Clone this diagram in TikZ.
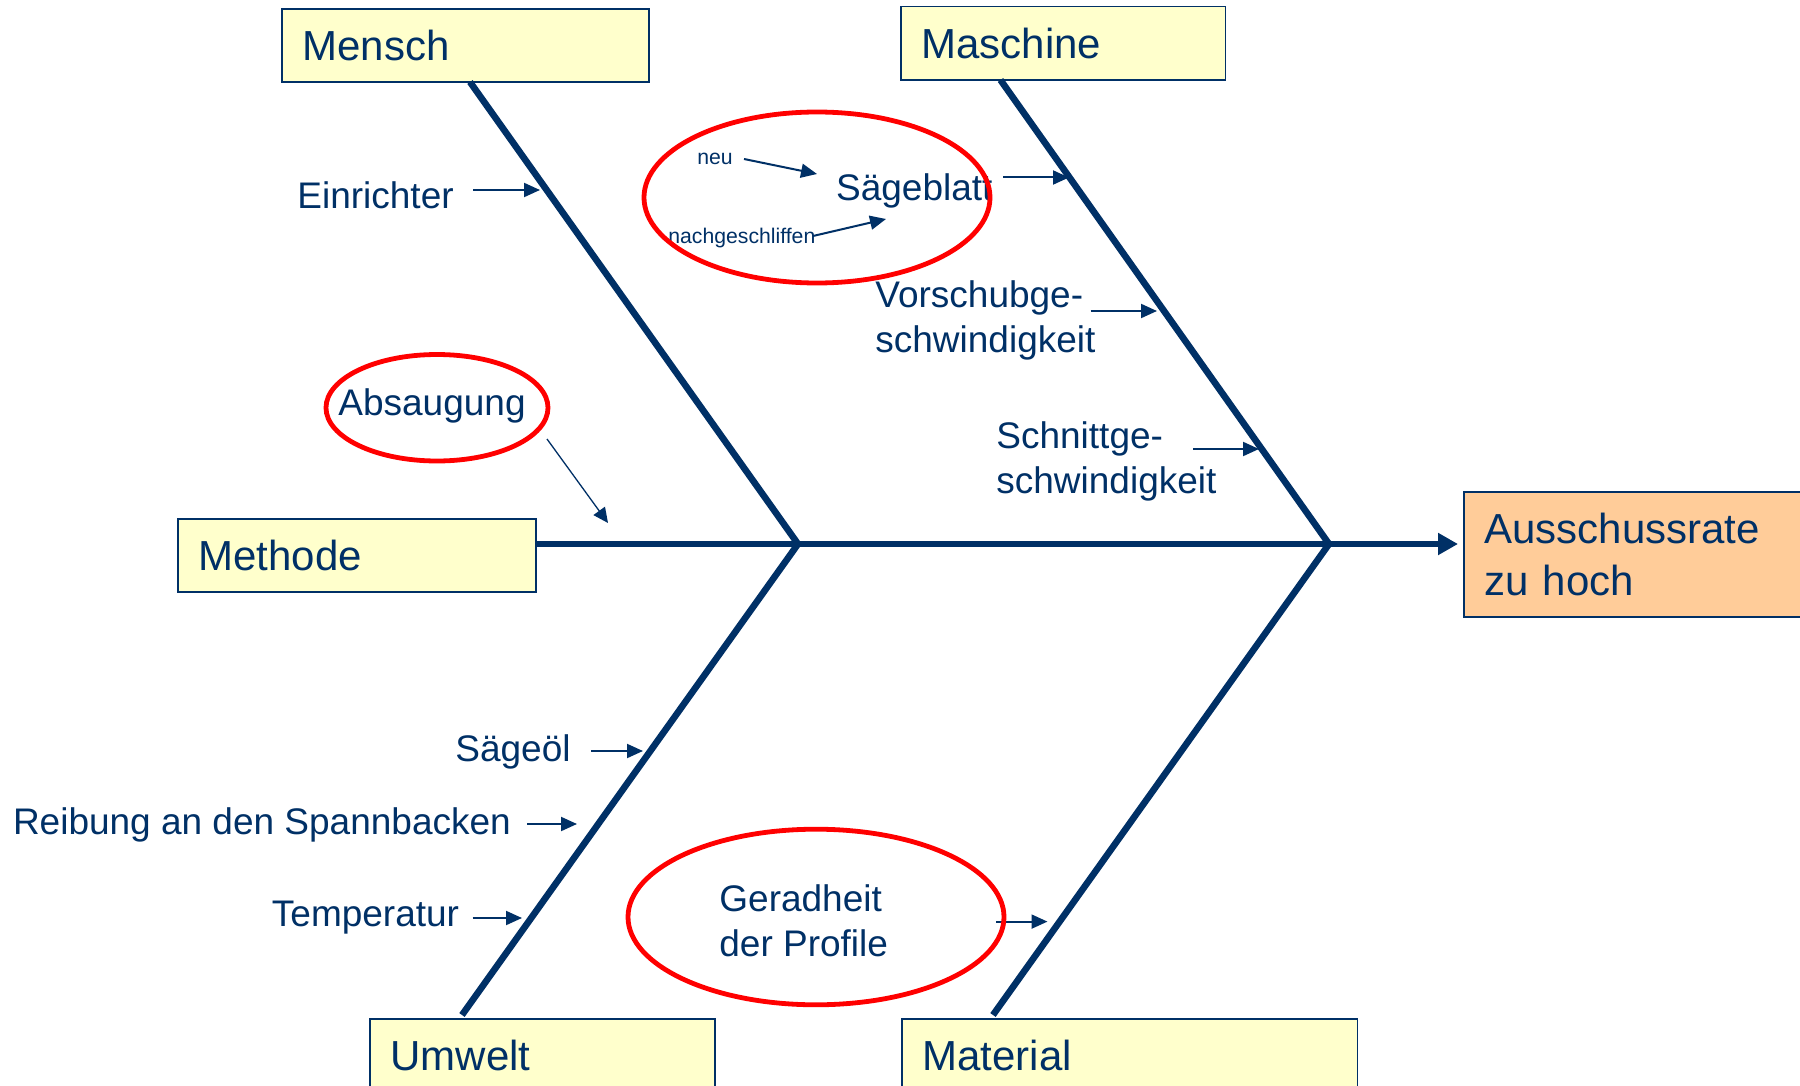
\documentclass[tikz,border=0pt]{standalone}
\usepackage{fontspec}
\setmainfont{Liberation Sans}
\usetikzlibrary{arrows.meta,shapes.geometric,calc}
\definecolor{navy}{RGB}{0,48,102}
\definecolor{boxyellow}{RGB}{255,255,204}
\definecolor{boxorange}{RGB}{255,204,153}
\definecolor{ringred}{RGB}{255,0,0}
\begin{document}
\begin{tikzpicture}[x=0.5pt,y=-0.5pt,
  catbox/.style={draw=navy, line width=0.8pt, fill=boxyellow, text=navy, inner xsep=10.25pt, inner ysep=0pt, outer sep=0pt, align=left, font=\fontsize{21}{26}\selectfont},
  effectbox/.style={catbox, fill=boxorange},
  bone/.style={draw=navy, line width=3.3pt},
  spine/.style={draw=navy, line width=3.3pt, -{Triangle[length=10pt,width=10.5pt]}},
  cause/.style={text=navy, inner sep=0pt, anchor=base west, align=left, font=\fontsize{18.5}{22.5}\selectfont},
  subcause/.style={text=navy, inner sep=0pt, anchor=base west, font=\fontsize{10.6}{12}\selectfont},
  causearrow/.style={draw=navy, line width=1pt, -{Triangle[length=8pt,width=7pt]}},
  thinarrow/.style={draw=navy, line width=0.65pt, -{Triangle[length=7.5pt,width=7pt]}},
  ring/.style={draw=ringred, line width=2.4pt, ellipse, inner sep=0pt, outer sep=0pt}
]
\useasboundingbox (0,0) rectangle (1800,1086);
\fill[white] (0,0) rectangle (1800,1086);

% category boxes
\node[catbox, text width=163pt, minimum height=36.5pt] (mensch) at (465.5,45.5) {Mensch};
\node[catbox, text width=141.75pt, minimum height=36.75pt] (maschine) at (1063.25,43.25) {Maschine};
\node[catbox, text width=158.5pt, minimum height=36.5pt] (methode) at (357,555.5) {Methode};
\node[catbox, text width=152pt, minimum height=36.5pt] (umwelt) at (542.5,1055.5) {Umwelt};
\node[catbox, text width=207.25pt, minimum height=36.5pt] (material) at (1129.75,1055.5) {Material};
\node[effectbox, text width=150.5pt, minimum height=62.5pt] (effekt) at (1635,554.5) {Ausschussrate\\zu hoch};

% junctions
\coordinate (j1) at (798,544);
\coordinate (j2) at (1329,544);

% bones
\draw[bone] ($(mensch.south west)+(188,0)$) -- (j1) -- ($(umwelt.north west)+(92,-4)$);
\draw[bone] ($(maschine.south west)+(99.5,0)$) -- (j2) -- ($(material.north west)+(91,-4)$);
\draw[spine, shorten >=3pt] (methode.east |- j1) -- (j1) -- (j2) -- (effekt.west |- j1);

% causes
\node[cause] (einrichter) at (297,208) {Einrichter};
\node[cause] (absaugung) at (338,415) {Absaugung};
\node[cause] (saegeoel) at (455,761) {Sägeöl};
\node[cause] (reibung) at (12.6,834) {Reibung an den Spannbacken};
\node[cause] (temperatur) at (271.5,926.5) {Temperatur};
\node[cause] (vorschub) at (875,352) {Vorschubge-\\schwindigkeit};
\node[cause] (schnitt) at (996,493) {Schnittge-\\schwindigkeit};
\node[cause] (geradheit) at (719,956) {Geradheit\\der Profile};
\node[cause] (saegeblatt) at (835.7,200) {Sägeblatt};
\node[subcause] (neu) at (697,164) {neu};
\node[subcause] (nachgeschliffen) at (668,243) {nachgeschliffen};

% arrow coordinates
\coordinate (a1s) at (473,190);   \coordinate (a1e) at (540,190);
\coordinate (a2s) at (547,439);   \coordinate (a2e) at (608,523);
\coordinate (a3s) at (591,751);   \coordinate (a3e) at (643,751);
\coordinate (a4s) at (527,824);   \coordinate (a4e) at (577,824);
\coordinate (a5s) at (472.5,918); \coordinate (a5e) at (522,918);
\coordinate (a6s) at (744,159);   \coordinate (a6e) at (817,174);
\coordinate (a7s) at (813,236);   \coordinate (a7e) at (886,219);
\coordinate (a8s) at (1003,177.5); \coordinate (a8e) at (1069,177.5);
\coordinate (a9s) at (1090.6,311); \coordinate (a9e) at (1157,311);
\coordinate (a10s) at (1193,449); \coordinate (a10e) at (1259,449);
\coordinate (a11s) at (996,921.6); \coordinate (a11e) at (1047.5,921.6);

\draw[causearrow] (a1s) -- (a1e);
\draw[thinarrow] (a2s) -- (a2e);
\draw[causearrow] (a3s) -- (a3e);
\draw[causearrow] (a4s) -- (a4e);
\draw[causearrow] (a5s) -- (a5e);
\draw[causearrow] (a6s) -- (a6e);
\draw[causearrow] (a7s) -- (a7e);
\draw[causearrow] (a8s) -- (a8e);
\draw[causearrow] (a9s) -- (a9e);
\draw[causearrow] (a10s) -- (a10e);
\draw[causearrow] (a11s) -- (a11e);

% red rings
\node[ring, minimum width=173pt, minimum height=85.5pt] (ring1) at (817,197.5) {};
\node[ring, minimum width=111pt, minimum height=53.25pt] (ring2) at (437,407.75) {};
\node[ring, minimum width=188pt, minimum height=87.8pt] (ring3) at (816,917) {};
\end{tikzpicture}
\end{document}
